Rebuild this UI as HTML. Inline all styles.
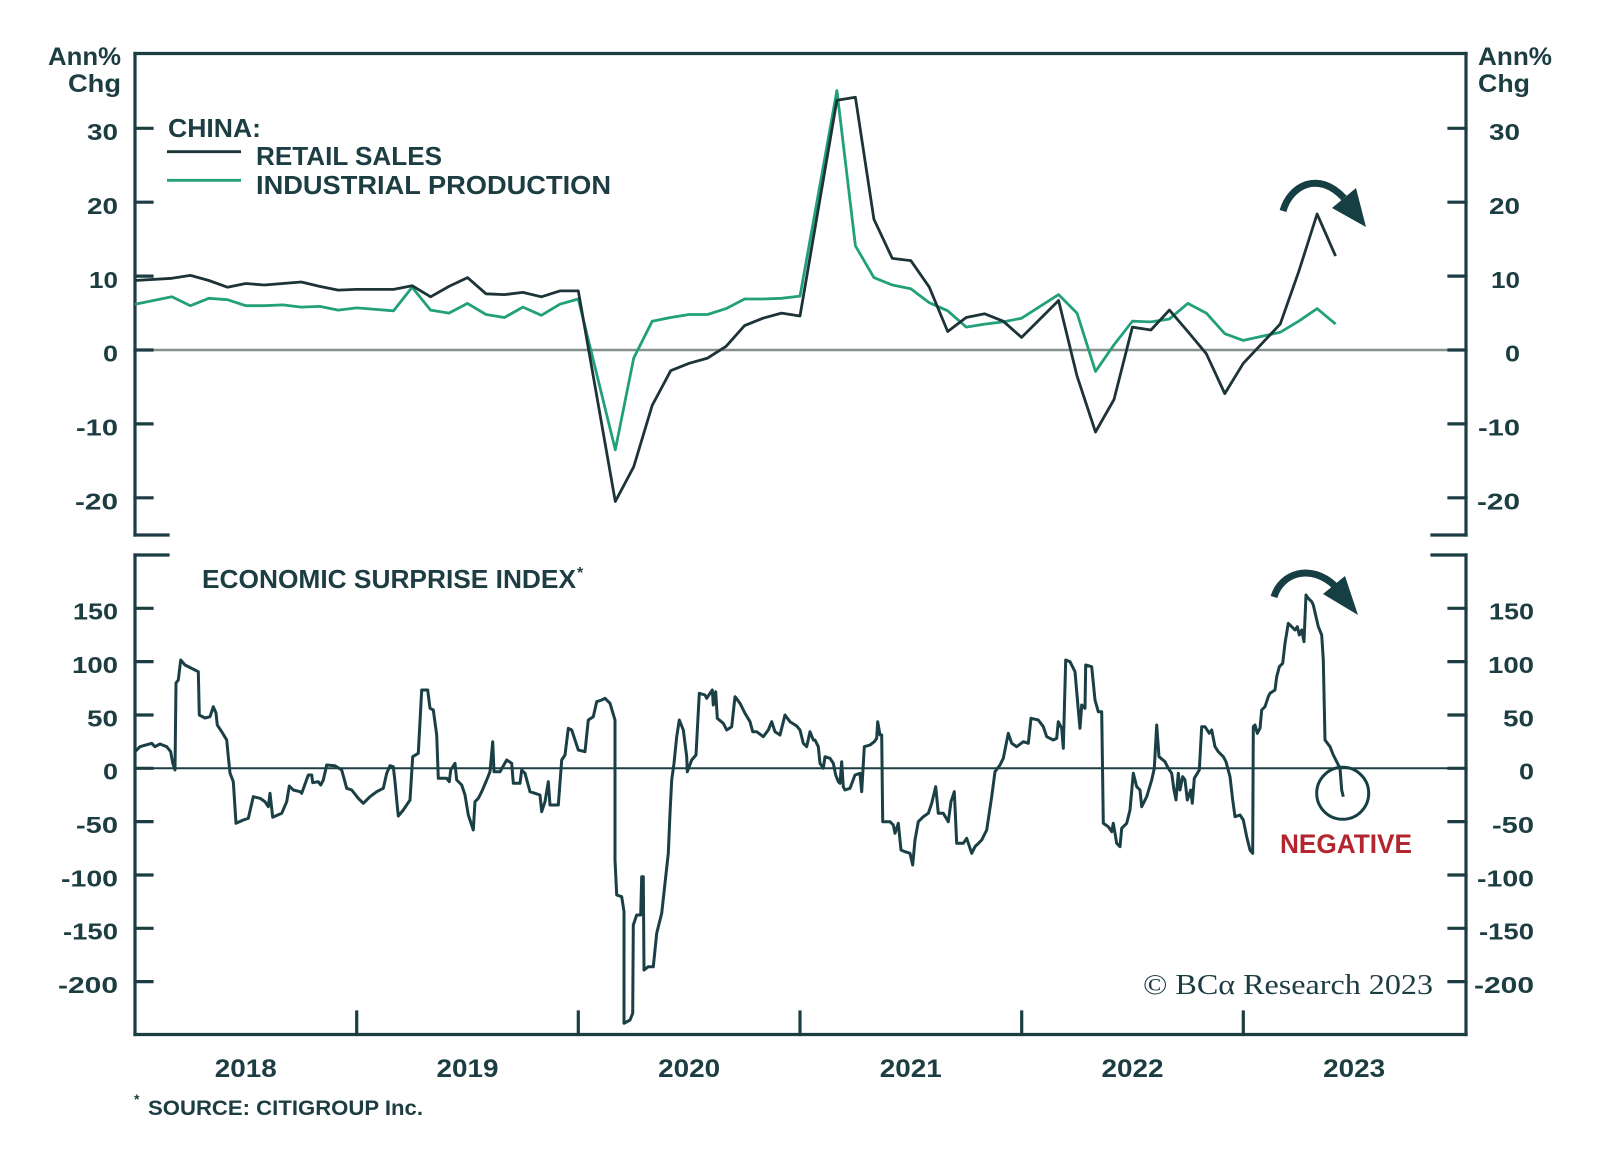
<!DOCTYPE html>
<html>
<head>
<meta charset="utf-8">
<style>
html,body{margin:0;padding:0;background:#fff;}
svg{display:block;}
text{font-family:"Liberation Sans",Arial,sans-serif;fill:#1c3d42;}
.n{font-size:23px;font-weight:bold;}
.y{font-size:25px;font-weight:bold;}
.h{font-size:25px;font-weight:bold;}
.l{font-size:26px;font-weight:bold;}
</style>
</head>
<body>
<svg width="1600" height="1154" viewBox="0 0 1600 1154" xmlns="http://www.w3.org/2000/svg">
<rect width="1600" height="1154" fill="#fff"/>

<!-- ===== TOP PANEL ===== -->
<line x1="135" y1="350" x2="1466" y2="350" stroke="#86908f" stroke-width="2.5"/>
<g stroke="#1c3d42" stroke-width="3.2" fill="none" stroke-linecap="square">
  <line x1="135" y1="53.5" x2="1466" y2="53.5"/>
  <line x1="135" y1="53.5" x2="135" y2="535"/>
  <line x1="1466" y1="53.5" x2="1466" y2="535"/>
  <line x1="135" y1="535" x2="168" y2="535"/>
  <line x1="1432" y1="535" x2="1466" y2="535"/>
  <line x1="135" y1="128.3" x2="152" y2="128.3"/>
  <line x1="135" y1="202.2" x2="152" y2="202.2"/>
  <line x1="135" y1="276.1" x2="152" y2="276.1"/>
  <line x1="135" y1="350" x2="152" y2="350"/>
  <line x1="135" y1="423.9" x2="152" y2="423.9"/>
  <line x1="135" y1="497.8" x2="152" y2="497.8"/>
  <line x1="1449" y1="128.3" x2="1466" y2="128.3"/>
  <line x1="1449" y1="202.2" x2="1466" y2="202.2"/>
  <line x1="1449" y1="276.1" x2="1466" y2="276.1"/>
  <line x1="1449" y1="350" x2="1466" y2="350"/>
  <line x1="1449" y1="423.9" x2="1466" y2="423.9"/>
  <line x1="1449" y1="497.8" x2="1466" y2="497.8"/>
</g>

<g text-anchor="end">
  <text class="n" x="118" y="140" textLength="31" lengthAdjust="spacingAndGlyphs">30</text>
  <text class="n" x="118" y="214" textLength="31" lengthAdjust="spacingAndGlyphs">20</text>
  <text class="n" x="118" y="288" textLength="29" lengthAdjust="spacingAndGlyphs">10</text>
  <text class="n" x="118" y="361.5" textLength="15" lengthAdjust="spacingAndGlyphs">0</text>
  <text class="n" x="118" y="435.5" textLength="42" lengthAdjust="spacingAndGlyphs">-10</text>
  <text class="n" x="118" y="509.5" textLength="43" lengthAdjust="spacingAndGlyphs">-20</text>
</g>
<g text-anchor="end">
  <text class="n" x="1520" y="140" textLength="31" lengthAdjust="spacingAndGlyphs">30</text>
  <text class="n" x="1520" y="214" textLength="31" lengthAdjust="spacingAndGlyphs">20</text>
  <text class="n" x="1520" y="288" textLength="29" lengthAdjust="spacingAndGlyphs">10</text>
  <text class="n" x="1520" y="361.5" textLength="15" lengthAdjust="spacingAndGlyphs">0</text>
  <text class="n" x="1520" y="435.5" textLength="42" lengthAdjust="spacingAndGlyphs">-10</text>
  <text class="n" x="1520" y="509.5" textLength="43" lengthAdjust="spacingAndGlyphs">-20</text>
</g>

<text class="h" x="48" y="65" textLength="73" lengthAdjust="spacingAndGlyphs">Ann%</text>
<text class="h" x="121" y="92" text-anchor="end" textLength="53" lengthAdjust="spacingAndGlyphs">Chg</text>
<text class="h" x="1478" y="65" textLength="74" lengthAdjust="spacingAndGlyphs">Ann%</text>
<text class="h" x="1478" y="92" textLength="52" lengthAdjust="spacingAndGlyphs">Chg</text>

<text class="l" x="168" y="137" textLength="93" lengthAdjust="spacingAndGlyphs">CHINA:</text>
<line x1="167" y1="151.7" x2="241" y2="151.7" stroke="#1c3338" stroke-width="2.8"/>
<line x1="167" y1="180.3" x2="241" y2="180.3" stroke="#22a07a" stroke-width="2.8"/>
<text class="l" x="256" y="165" textLength="186" lengthAdjust="spacingAndGlyphs">RETAIL SALES</text>
<text class="l" x="256" y="194" textLength="355" lengthAdjust="spacingAndGlyphs">INDUSTRIAL PRODUCTION</text>

<polyline fill="none" stroke="#22a07a" stroke-width="2.8" stroke-linejoin="round" points="
135,304.2 171.9,296.8 190.4,305.7 208.9,298.3 227.4,299.7 245.8,305.7 264.3,305.7 282.8,304.9 301.3,307.1 319.7,306.4 338.2,310.1 356.7,307.9
393.6,310.8 412.1,287.2 430.6,310.1 449,313.1 467.5,303.4 486,314.5 504.4,317.5 522.9,307.1 541.4,315.3 559.9,304.2 578.3,299.0
615.3,449.8 633.7,358.1 652.2,321.2 670.7,317.5 689.1,314.5 707.6,314.5 726.1,308.6 744.6,299.0 763,299.0 781.5,298.3 800,296.1
836.9,90.6 855.4,245.8 873.9,277.6 892.3,285.0 910.8,288.7 929.3,302.7 947.7,310.8 966.2,327.1 984.7,324.1 1003.2,321.9 1021.6,318.2
1058.6,294.6 1077,313.1 1095.5,371.4 1114,344.8 1132.4,321.2 1150.9,321.9 1169.4,319.0 1187.8,303.4 1206.3,313.1 1224.8,333.7 1243.3,340.4
1280.2,332.3 1298.7,321.2 1317.1,308.6 1335.6,324.1"/>

<polyline fill="none" stroke="#1c3338" stroke-width="2.8" stroke-linejoin="round" points="
135,280.5 171.9,278.3 190.4,275.4 208.9,280.5 227.4,287.2 245.8,283.5 264.3,285.0 282.8,283.5 301.3,282.0 319.7,286.4 338.2,290.1 356.7,289.4
393.6,289.4 412.1,285.7 430.6,296.8 449,286.4 467.5,277.6 486,293.8 504.4,294.6 522.9,292.4 541.4,296.8 559.9,290.9 578.3,290.9
615.3,501.5 633.7,466.8 652.2,405.4 670.7,370.7 689.1,363.3 707.6,358.1 726.1,346.3 744.6,325.6 763,318.2 781.5,313.1 800,316.0
836.9,100.2 855.4,97.3 873.9,219.2 892.3,258.4 910.8,260.6 929.3,287.2 947.7,331.5 966.2,317.5 984.7,313.8 1003.2,321.2 1021.6,337.4
1058.6,300.5 1077,375.9 1095.5,432.0 1114,399.5 1132.4,327.1 1150.9,330.0 1169.4,310.1 1187.8,331.5 1206.3,353.7 1224.8,393.6 1243.3,363.3
1280.2,324.1 1298.7,271.7 1317.1,214.0 1335.6,256.1"/>

<path d="M1283,211 C1290,186 1318,170 1344,198" fill="none" stroke="#163f44" stroke-width="7" stroke-linecap="butt"/>
<polygon points="1332,208 1356,188 1366,227" fill="#163f44"/>

<!-- ===== BOTTOM PANEL ===== -->
<line x1="135" y1="768.3" x2="1466" y2="768.3" stroke="#1c3d42" stroke-width="2"/>
<g stroke="#1c3d42" stroke-width="3.2" fill="none" stroke-linecap="square">
  <line x1="135" y1="555" x2="168" y2="555"/>
  <line x1="1432" y1="555" x2="1466" y2="555"/>
  <line x1="135" y1="555" x2="135" y2="1034.5"/>
  <line x1="1466" y1="555" x2="1466" y2="1034.5"/>
  <line x1="135" y1="1034.5" x2="1466" y2="1034.5"/>
  <line x1="135" y1="608.3" x2="152" y2="608.3"/>
  <line x1="135" y1="661.6" x2="152" y2="661.6"/>
  <line x1="135" y1="715" x2="152" y2="715"/>
  <line x1="135" y1="768.3" x2="152" y2="768.3"/>
  <line x1="135" y1="821.6" x2="152" y2="821.6"/>
  <line x1="135" y1="875" x2="152" y2="875"/>
  <line x1="135" y1="928.3" x2="152" y2="928.3"/>
  <line x1="135" y1="981.6" x2="152" y2="981.6"/>
  <line x1="1449" y1="608.3" x2="1466" y2="608.3"/>
  <line x1="1449" y1="661.6" x2="1466" y2="661.6"/>
  <line x1="1449" y1="715" x2="1466" y2="715"/>
  <line x1="1449" y1="768.3" x2="1466" y2="768.3"/>
  <line x1="1449" y1="821.6" x2="1466" y2="821.6"/>
  <line x1="1449" y1="875" x2="1466" y2="875"/>
  <line x1="1449" y1="928.3" x2="1466" y2="928.3"/>
  <line x1="1449" y1="981.6" x2="1466" y2="981.6"/>
  <line x1="356.7" y1="1012" x2="356.7" y2="1034.5"/>
  <line x1="578.3" y1="1012" x2="578.3" y2="1034.5"/>
  <line x1="800" y1="1012" x2="800" y2="1034.5"/>
  <line x1="1021.7" y1="1012" x2="1021.7" y2="1034.5"/>
  <line x1="1243.3" y1="1012" x2="1243.3" y2="1034.5"/>
</g>

<g text-anchor="end">
  <text class="n" x="118" y="619.5" textLength="45" lengthAdjust="spacingAndGlyphs">150</text>
  <text class="n" x="118" y="673" textLength="46" lengthAdjust="spacingAndGlyphs">100</text>
  <text class="n" x="118" y="726.5" textLength="31" lengthAdjust="spacingAndGlyphs">50</text>
  <text class="n" x="118" y="779.5" textLength="15" lengthAdjust="spacingAndGlyphs">0</text>
  <text class="n" x="118" y="833" textLength="42" lengthAdjust="spacingAndGlyphs">-50</text>
  <text class="n" x="118" y="886.5" textLength="57" lengthAdjust="spacingAndGlyphs">-100</text>
  <text class="n" x="118" y="939.5" textLength="55" lengthAdjust="spacingAndGlyphs">-150</text>
  <text class="n" x="118" y="993" textLength="60" lengthAdjust="spacingAndGlyphs">-200</text>
</g>
<g text-anchor="end">
  <text class="n" x="1534" y="619.5" textLength="45" lengthAdjust="spacingAndGlyphs">150</text>
  <text class="n" x="1534" y="673" textLength="46" lengthAdjust="spacingAndGlyphs">100</text>
  <text class="n" x="1534" y="726.5" textLength="31" lengthAdjust="spacingAndGlyphs">50</text>
  <text class="n" x="1534" y="779.5" textLength="15" lengthAdjust="spacingAndGlyphs">0</text>
  <text class="n" x="1534" y="833" textLength="42" lengthAdjust="spacingAndGlyphs">-50</text>
  <text class="n" x="1534" y="886.5" textLength="57" lengthAdjust="spacingAndGlyphs">-100</text>
  <text class="n" x="1534" y="939.5" textLength="55" lengthAdjust="spacingAndGlyphs">-150</text>
  <text class="n" x="1534" y="993" textLength="60" lengthAdjust="spacingAndGlyphs">-200</text>
</g>

<g text-anchor="middle">
  <text class="y" x="245.8" y="1077" textLength="62" lengthAdjust="spacingAndGlyphs">2018</text>
  <text class="y" x="467.5" y="1077" textLength="62" lengthAdjust="spacingAndGlyphs">2019</text>
  <text class="y" x="689.2" y="1077" textLength="62" lengthAdjust="spacingAndGlyphs">2020</text>
  <text class="y" x="910.8" y="1077" textLength="62" lengthAdjust="spacingAndGlyphs">2021</text>
  <text class="y" x="1132.5" y="1077" textLength="62" lengthAdjust="spacingAndGlyphs">2022</text>
  <text class="y" x="1354.2" y="1077" textLength="62" lengthAdjust="spacingAndGlyphs">2023</text>
</g>

<text class="l" x="202" y="588" textLength="374" lengthAdjust="spacingAndGlyphs">ECONOMIC SURPRISE INDEX</text>
<text x="577" y="578" style="font-size:16px;font-weight:bold;">*</text>

<polyline fill="none" stroke="#1a3f45" stroke-width="3" stroke-linejoin="round" points="
135,751.7 140,746.7 151.7,743.3 155,746.7 160,744 166.7,746.7 170.7,751.7 172.7,763 175,770 176,683 178.3,680 180.7,660 185,665 198.3,671.7 199.3,715 205,718 210,716.7 213.3,706.7 216,713 217.3,725 222.7,733.3 226.7,740 228.3,756.7 230,773 233.3,781.7 236,823.3 243.3,820 248.3,818.3 253.3,796.7 260,798.3 265,801.7 268.3,806.7 270,793.3 272.7,817.3 281.7,813.3 286.7,801.7 289.3,786 293.3,790 300,791.7 301.7,793.3 308.3,775 311.7,775 312.7,782.7 318.3,781.7 320.7,785 323.3,780 326.7,765 335,765.7 341.7,770 346.7,788.3 351.7,790 358.3,798.3 363.3,803.3 370,796.7 376.7,791.7 383.3,788.3 386.7,773.3 390,765.7 393.3,766.7 395,781.7 396.7,800 398.3,816 403.3,810 410,800 412.7,756.7 418.3,753.3 421.7,690 427.7,690 430,708.3 433.3,710 436.7,735 438.3,778.3 446.7,778.3 449.3,781.7 450.7,770 455,763.3 456.7,780 461.7,785 465,795 468.3,815 473.3,830
475,801.7 478.3,798.3 481.7,791.7 486.7,780 490,771.7 492.7,741.7 494,771.7 500,771.7 506.7,760 511.7,763.3 513.3,783.3 520,783.3 521.7,770 525,773.3 530,791.7 535,793.3 540,795 541.7,811.7 545,801.7 548.3,781.7 550,805 558.3,805 561.7,760 565,755 568.3,728.3 571.7,730 578.3,750 585,751.7 588.3,720 593.3,716.7 596.7,701.7 601.7,700 605,698.3 610,703.3 614,716.7 615,720 615,860 616.7,895 621.7,896.7 624,911.7 624,1023.3 630,1020 632.7,1013.3 633.3,925 636.7,915 640.7,915 641.7,876.7 643.3,876.7 644,970 648.3,966.7 653.3,966.7 656.7,933.3 661.7,913.3 665,883.3 668.3,853.3 670,813.3 671.7,780 674,763.3 676.7,736.7 679.3,720 683.3,730 686.7,756.7 687.3,771.7 691.7,760 696,755 699.3,693.3 705,695 706.7,698.3 710,693.3 712.3,690 713.3,705 715.7,691.7 717.3,718.3 723.3,723.3 726.7,730 731.7,726.7 735,696.7 740,703.3 745,713.3 750,721.7 752.7,731.7 756.7,731.7 763.3,736.7 768.3,730 771.7,721.7 775,731.7 780,735 785,715 790,721.7 796.7,726 800,730 803.3,743.3 806.7,746.7 810,731.7 813.3,740
815,740 818.3,746.7 820,763.3 823.3,768.3 825,756.7 830,758.3 833.3,763.3 835.7,775 838.3,781.7 840,783.3 841.7,761.7 843.3,786.7 845,790 850,788.3 855,775 860,773.3 861.7,791.7 864.3,746.7 870,745 874.3,741.7 876.7,738.3 877.7,721.7 880,735 881.7,735 882.7,821.7 890,821.7 893.3,825 895,833.3 898.3,823.3 901,850 905,851.7 910,853.3 912.7,865 915,840 918.3,821.7 923.3,816.7 928.3,813.3 931.7,803.3 935.7,786.7 938.3,813.3 943.3,813.3 948.3,821.7 951,801.7 954.3,791.7 956.7,843.3 963.3,843.3 966.7,838.3 971.7,853.3 975,846.7 981.7,840 986.7,830 991.7,796.7 995,771.7 1000,765 1003.3,758.3 1008.3,733.3 1011.7,743.3 1016.7,746.7 1023.3,741.7 1028.3,743.3 1031,718.3 1038.3,720 1043.3,726.7 1046.7,736.7 1053.3,740 1056.7,738.3 1058.3,721.7 1061.7,728.3 1063.3,748.3 1065.7,660 1070,661.7 1075,671.7 1078.3,710 1080,728.3 1081.7,705 1085,708.3 1085.7,665 1091.7,666.7 1095,700 1098.3,711.7 1101.7,711.7 1103.3,823.3 1108.3,826.7 1111.7,831.7 1113.3,823.3 1116.7,843.3 1120,846.7 1121.7,828.3 1126.7,823.3 1130,810 1133.3,773.3 1136.7,786.7 1140,790 1141.7,806.7 1146.7,796.7 1151.7,780 1154.3,768.3 1156.7,725 1159,756.7
1165,761.7 1168.3,768.3 1171.7,773.3 1174,790 1176,800 1178.3,773.3 1180,790 1182.7,776.7 1185,780 1187.3,800 1190.7,790 1192.3,803.3 1194.3,778.3 1199.3,770 1201.7,726.7 1205,726.7 1209.3,733.3 1211.7,730 1215,746.7 1218.3,751.7 1223.3,756.7 1226,761.7 1230,776.7 1232.7,800 1235,816.7 1240,815 1243.3,820 1246.7,836.7 1250,850 1252.7,853.3 1253.3,726.7 1255,725 1257.3,733.3 1260,728.3 1261.7,710 1265,706.7 1268.3,696.7 1270,693.3 1275,690 1276.7,676.7 1279.3,666.7 1282.7,663.3 1285,643.3 1288.3,623.3 1291.7,626.7 1295,630 1297.3,626.7 1299.3,635 1301.7,630 1304,641.7 1306,595 1308.3,598.3 1311.7,601.7 1313.3,605 1318.3,626.7 1321.7,635 1323.3,660 1325,740 1330,746.7 1333.3,755 1336.7,761.7 1340,768.3 1341.7,790 1343.3,796.7"/>

<path d="M1274,597 C1281,573 1311,563 1335,586" fill="none" stroke="#163f44" stroke-width="7" stroke-linecap="butt"/>
<polygon points="1323,594 1345,576 1358,615" fill="#163f44"/>

<circle cx="1342.7" cy="793.3" r="26" fill="none" stroke="#163f44" stroke-width="3"/>

<text x="1280" y="853" style="font-size:27px;font-weight:bold;fill:#b3262f;" textLength="132" lengthAdjust="spacingAndGlyphs">NEGATIVE</text>

<text x="1433" y="994" text-anchor="end" style="font-family:'Liberation Serif',serif;font-size:28px;fill:#1c3d42;" textLength="290" lengthAdjust="spacingAndGlyphs">© BCα Research 2023</text>

<text x="134" y="1104" style="font-size:14px;font-weight:bold;">*</text>
<text x="148" y="1115" style="font-size:21px;font-weight:bold;" textLength="275" lengthAdjust="spacingAndGlyphs">SOURCE: CITIGROUP Inc.</text>
</svg>
</body>
</html>
